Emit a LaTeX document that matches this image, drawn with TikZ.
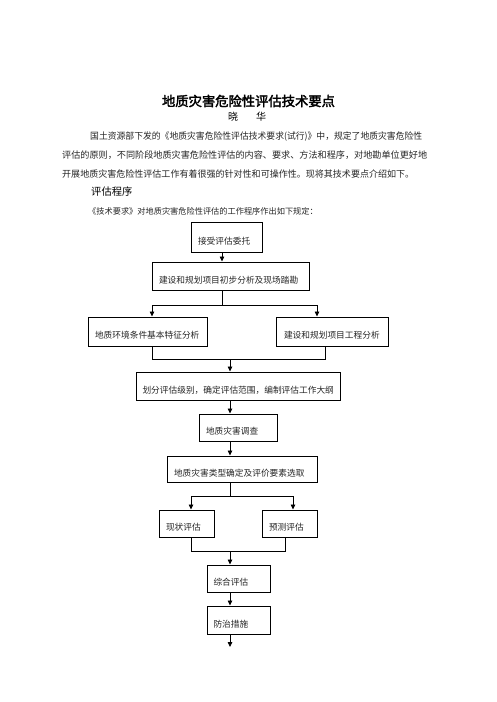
\documentclass[tikz,border=0pt]{standalone}
\usepackage{fontspec}
\usepackage{graphicx}
\newfontfamily\cjk[AutoFakeBold=2.5]{Noto Sans CJK SC}
\usetikzlibrary{arrows.meta}
\begin{document}
\begin{tikzpicture}[x=1pt,y=-1pt,
  box/.style={draw, line width=1pt, inner xsep=7pt, inner ysep=0pt, align=left,
    text height=14pt, text depth=0pt, font=\cjk\fontsize{8.7}{10}\selectfont, text=black!85},
  conn/.style={line width=0.8pt},
  arr/.style={conn, -{Triangle[length=5pt,width=4.5pt]}},
  txt/.style={inner sep=0pt, anchor=base west, text=black!85}]
\fill[white] (0,0) rectangle (496,702);
\useasboundingbox (0,0) rectangle (496,702);

% header text
\node[inner sep=0pt, font=\cjk\bfseries\fontsize{13.3}{15}\selectfont] (title) at (248.5,101) {地质灾害危险性评估技术要点};
\node[inner sep=0pt, font=\cjk\fontsize{10}{12}\selectfont] (author) at (247,117) {晓\hspace{18pt}华};
\node[txt, font=\cjk\fontsize{9.125}{11}\selectfont] (p1) at (90,139.5) {\resizebox{332pt}{\height}{国土资源部下发的《地质灾害危险性评估技术要求(试行)》中，规定了地质灾害危险性}};
\node[txt, font=\cjk\fontsize{9.125}{11}\selectfont] (p2) at (62,158.5) {\resizebox{365pt}{\height}{评估的原则，不同阶段地质灾害危险性评估的内容、要求、方法和程序，对地勘单位更好地}};
\node[txt, font=\cjk\fontsize{9.125}{11}\selectfont] (p3) at (62,177.5) {\resizebox{352pt}{\height}{开展地质灾害危险性评估工作有着很强的针对性和可操作性。现将其技术要点介绍如下。}};
\node[txt, text=black, font=\cjk\fontsize{10.3}{12}\selectfont] (h1) at (91,195) {评估程序};
\node[txt, font=\cjk\fontsize{8.2}{10}\selectfont] (p4) at (88,214) {《技术要求》对地质灾害危险性评估的工作程序作出如下规定：};

% boxes
\node[box, minimum width=71pt, minimum height=30pt, text width=57pt] (b1) at (226.5,237) {接受评估委托};
\node[box, minimum width=157pt, minimum height=28pt, text width=143pt] (b2) at (230.5,276) {建设和规划项目初步分析及现场踏勘};
\node[box, minimum width=119pt, minimum height=29pt, text width=105pt] (b3) at (147.5,331.5) {地质环境条件基本特征分析};
\node[box, minimum width=111pt, minimum height=29pt, text width=97pt, inner xsep=7.5pt] (b4) at (332.5,331.5) {建设和规划项目工程分析};
\node[box, minimum width=204pt, minimum height=28pt, text width=191pt, inner xsep=6.5pt] (b5) at (238,386) {划分评估级别，确定评估范围，编制评估工作大纲};
\node[box, minimum width=78pt, minimum height=27pt, text width=64pt] (b6) at (238,427.5) {地质灾害调查};
\node[box, minimum width=150pt, minimum height=26pt, text width=136pt] (b7) at (242,469) {地质灾害类型确定及评价要素选取};
\node[box, minimum width=55pt, minimum height=27pt, text width=41pt] (b8) at (186.5,523.5) {现状评估};
\node[box, minimum width=55pt, minimum height=27pt, text width=41pt] (b9) at (289.5,523.5) {预测评估};
\node[box, minimum width=63pt, minimum height=27pt, text width=50pt, inner xsep=6.5pt] (b10) at (238.5,578.5) {综合评估};
\node[box, minimum width=63pt, minimum height=28pt, text width=50pt, inner xsep=6.5pt] (b11) at (238.5,620) {防治措施};

% helper coordinates
\coordinate (xa) at (222,0);
\coordinate (xl1) at (152,0);
\coordinate (xr1) at (317,0);
\coordinate (xr2) at (325,0);
\coordinate (xc) at (230,0);
\coordinate (xl3) at (191,0);
\coordinate (xr3) at (293,0);
\coordinate (xr4) at (285,0);
\coordinate (ya) at (0,305);
\coordinate (yb) at (0,359);
\coordinate (yc) at (0,496);
\coordinate (yd) at (0,551);
\coordinate (endpt) at (230,647);

% connectors
\draw[arr] (b1.south -| xa) -- (b2.north -| xa);
\draw[conn] (b2.south -| xa) -- (xa |- ya);
\draw[arr] (xa |- ya) -| (b3.north -| xl1);
\draw[arr] (xa |- ya) -| (b4.north -| xr1);
\draw[conn] (b3.south -| xl1) -- (xl1 |- yb) -- (xr2 |- yb) -- (b4.south -| xr2);
\draw[arr] (xc |- yb) -- (b5.north -| xc);
\draw[arr] (b5.south -| xc) -- (b6.north -| xc);
\draw[arr] (b6.south -| xc) -- (b7.north -| xc);
\draw[conn] (b7.south -| xc) -- (xc |- yc);
\draw[arr] (xc |- yc) -| (b8.north -| xl3);
\draw[arr] (xc |- yc) -| (b9.north -| xr3);
\draw[conn] (b8.south -| xl3) -- (xl3 |- yd) -- (xr4 |- yd) -- (b9.south -| xr4);
\draw[arr] (xc |- yd) -- (b10.north -| xc);
\draw[arr] (b10.south -| xc) -- (b11.north -| xc);
\draw[arr] (b11.south -| xc) -- (endpt);
\end{tikzpicture}
\end{document}
